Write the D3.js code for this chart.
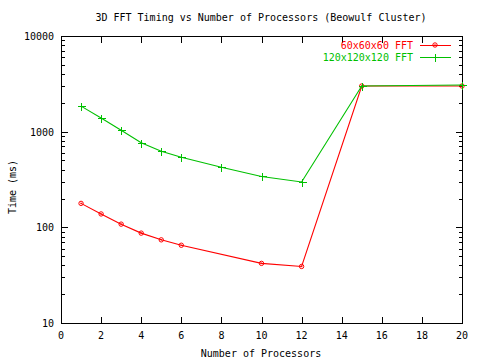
<!DOCTYPE html>
<html>
<head>
<meta charset="utf-8">
<script src="https://cdn.jsdelivr.net/npm/d3@7"></script>
<style>
  body { margin: 0; background: #fff; }
  text { font-family: "DejaVu Sans Mono", "Liberation Mono", monospace; font-size: 10px; }
</style>
</head>
<body>
<div id="chart"></div>
<script>
// data
var procs1 = [1, 2, 3, 4, 5, 6, 10, 12, 15, 20];
var time1 = [178, 138, 108, 87, 74, 65, 42, 39, 3000, 3000];
var procs2 = [1, 2, 3, 4, 5, 6, 8, 10, 12, 15, 20];
var time2 = [1850, 1390, 1035, 765, 625, 540, 425, 340, 298, 3000, 3080];
var xTicks = [0, 2, 4, 6, 8, 10, 12, 14, 16, 18, 20];
var yTicks = [10, 100, 1000, 10000];

var width = 480, height = 360;
// plot box edges (window.top is taken, so use other names)
var plotL = 61, plotR = 462, plotT = 36, plotB = 323;

var svg = d3.select("#chart").append("svg")
    .attr("width", width)
    .attr("height", height);

var x = d3.scaleLinear().domain([0, 20]).range([plotL, plotR]);
var y = d3.scaleLog().domain([10, 10000]).range([plotB, plotT]);

// frame
svg.append("rect")
    .attr("x", plotL + 0.5).attr("y", plotT + 0.5)
    .attr("width", plotR - plotL).attr("height", plotB - plotT)
    .attr("fill", "none").attr("stroke", "#000")
    .attr("shape-rendering", "crispEdges");

// y ticks, major and minor, on both sides
var minor = [];
for (var d = 10; d < 10000; d *= 10) {
    for (var k = 2; k <= 9; k++) minor.push(d * k);
}
var g = svg.append("g").attr("stroke", "#000").attr("shape-rendering", "crispEdges");
yTicks.forEach(function (v) {
    var py = Math.round(y(v)) + 0.5;
    g.append("line").attr("x1", plotL).attr("x2", plotL + 7).attr("y1", py).attr("y2", py);
    g.append("line").attr("x1", plotR - 6).attr("x2", plotR + 1).attr("y1", py).attr("y2", py);
});
minor.forEach(function (v) {
    var py = Math.round(y(v)) + 0.5;
    g.append("line").attr("x1", plotL).attr("x2", plotL + 4).attr("y1", py).attr("y2", py);
    g.append("line").attr("x1", plotR - 3).attr("x2", plotR + 1).attr("y1", py).attr("y2", py);
});
xTicks.forEach(function (v) {
    var px = Math.round(x(v)) + 0.5;
    g.append("line").attr("x1", px).attr("x2", px).attr("y1", plotB).attr("y2", plotB - 6);
    g.append("line").attr("x1", px).attr("x2", px).attr("y1", plotT).attr("y2", plotT + 7);
});

// tick labels
svg.selectAll(".ylab").data(yTicks).enter().append("text")
    .attr("x", plotL - 7)
    .attr("y", function (d) { return y(d) + 4; })
    .attr("text-anchor", "end")
    .text(function (d) { return d; });

svg.selectAll(".xlab").data(xTicks).enter().append("text")
    .attr("x", function (d) { return x(d); })
    .attr("y", plotB + 16)
    .attr("text-anchor", "middle")
    .text(function (d) { return d; });

// titles
svg.append("text").attr("x", 261).attr("y", 21).attr("text-anchor", "middle")
    .text("3D FFT Timing vs Number of Processors (Beowulf Cluster)");
svg.append("text").attr("x", 261).attr("y", 357).attr("text-anchor", "middle")
    .text("Number of Processors");
svg.append("text").attr("transform", "translate(16,187) rotate(-90)").attr("text-anchor", "middle")
    .text("Time (ms)");

var line = d3.line()
    .x(function (d) { return x(d[0]); })
    .y(function (d) { return y(d[1]); });

var red = "#ff0000", green = "#00c000";
var s1 = d3.zip(procs1, time1);
var s2 = d3.zip(procs2, time2);

function circleMark(sel, color) {
    sel.append("circle").attr("r", 2.2).attr("fill", "none").attr("stroke", color).attr("stroke-width", 1);
    sel.append("circle").attr("r", 0.8).attr("fill", color);
}
function plusMark(sel, color) {
    sel.append("path").attr("d", "M-3.5,0.5H4.5M0.5,-3.5V4.5").attr("stroke", color).attr("stroke-width", 1)
        .attr("shape-rendering", "crispEdges");
}

// red series
svg.append("path").datum(s1).attr("d", line)
    .attr("fill", "none").attr("stroke", red).attr("stroke-width", 1.1);
svg.selectAll(".p1").data(s1).enter().append("g")
    .attr("transform", function (d) { return "translate(" + x(d[0]) + "," + y(d[1]) + ")"; })
    .call(circleMark, red);

// green series
svg.append("path").datum(s2).attr("d", line)
    .attr("fill", "none").attr("stroke", green).attr("stroke-width", 1.1);
svg.selectAll(".p2").data(s2).enter().append("g")
    .attr("transform", function (d) { return "translate(" + Math.round(x(d[0])) + "," + Math.round(y(d[1])) + ")"; })
    .call(plusMark, green);

// legend
var legend = [
    { name: "60x60x60 FFT", color: red, mark: circleMark },
    { name: "120x120x120 FFT", color: green, mark: plusMark }
];
legend.forEach(function (d, i) {
    var ly = 45 + i * 12;
    svg.append("text").attr("x", 413).attr("y", ly + 4).attr("text-anchor", "end")
        .attr("fill", d.color).text(d.name);
    svg.append("line").attr("x1", 420).attr("x2", 451).attr("y1", ly + 0.5).attr("y2", ly + 0.5)
        .attr("stroke", d.color).attr("stroke-width", 1);
    svg.append("g").attr("transform", "translate(435," + ly + ")").call(d.mark, d.color);
});
</script>
</body>
</html>
